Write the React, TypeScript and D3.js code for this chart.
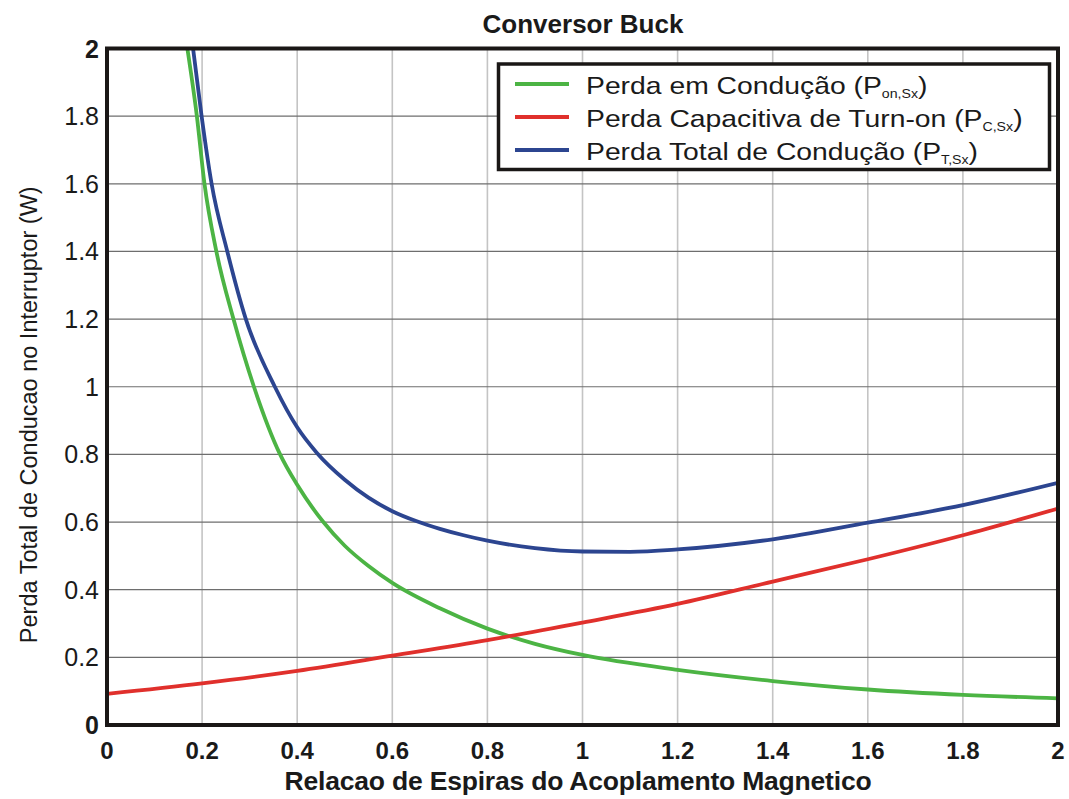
import React from "react";
import * as d3 from "d3";

const title = "Conversor Buck";
const xLabel = "Relacao de Espiras do Acoplamento Magnetico";
const yLabel = "Perda Total de Conducao no Interruptor (W)";

const xTicks = [0, 0.2, 0.4, 0.6, 0.8, 1, 1.2, 1.4, 1.6, 1.8, 2];
const yTicks = [0, 0.2, 0.4, 0.6, 0.8, 1, 1.2, 1.4, 1.6, 1.8, 2];

const greenX = [0.169, 0.189, 0.205, 0.23, 0.266, 0.309, 0.364, 0.4, 0.455, 0.5, 0.55, 0.6, 0.7, 0.8, 0.9, 1.0, 1.2, 1.4, 1.6, 1.8, 2.0];
const greenY = [2.0, 1.8, 1.6, 1.4, 1.2, 1.0, 0.8, 0.71, 0.6, 0.53, 0.47, 0.42, 0.345, 0.285, 0.24, 0.207, 0.163, 0.13, 0.105, 0.089, 0.079];

const redX = [0, 0.2, 0.4, 0.6, 0.8, 1.0, 1.2, 1.4, 1.6, 1.8, 2.0];
const redY = [0.092, 0.123, 0.16, 0.205, 0.251, 0.303, 0.358, 0.424, 0.49, 0.561, 0.64];

const blueX = [0.181, 0.199, 0.22, 0.253, 0.292, 0.353, 0.4, 0.441, 0.5, 0.55, 0.6, 0.65, 0.7, 0.75, 0.8, 0.9, 1.0, 1.1, 1.2, 1.4, 1.6, 1.8, 2.0];
const blueY = [2.0, 1.8, 1.6, 1.4, 1.2, 1.0, 0.88, 0.805, 0.725, 0.672, 0.632, 0.603, 0.58, 0.561, 0.545, 0.523, 0.513, 0.512, 0.519, 0.549, 0.598, 0.65, 0.716];

const legendMain = ["Perda em Condução (P", "Perda Capacitiva de Turn-on (P", "Perda Total de Condução (P"];
const legendSub = ["on,Sx", "C,Sx", "T,Sx"];
const colors = ["#4cb444", "#e0302c", "#2c4590"];

export default function App() {
  const W = 1069, H = 799;
  const L = 107, R = 1058, T = 48.5, B = 725;
  const x = d3.scaleLinear().domain([0, 2]).range([L, R]);
  const y = d3.scaleLinear().domain([0, 2]).range([B, T]);
  const line = d3.line<[number, number]>().x(d => x(d[0])).y(d => y(d[1])).curve(d3.curveMonotoneX);
  const series = [
    d3.zip(greenX, greenY) as [number, number][],
    d3.zip(redX, redY) as [number, number][],
    d3.zip(blueX, blueY) as [number, number][],
  ];
  const font = "Arial, 'Liberation Sans', Helvetica, sans-serif";
  return (
    <svg width={W} height={H} style={{ position: "absolute", left: 0, top: 0, background: "#fff" }} fontFamily={font}>
      <defs>
        <clipPath id="plot"><rect x={L} y={T} width={R - L} height={B - T} /></clipPath>
      </defs>
      {xTicks.slice(1, -1).map(t => (
        <line key={"vx" + t} x1={x(t)} x2={x(t)} y1={T} y2={B} stroke="#c4c4c4" strokeWidth={1.6} />
      ))}
      {yTicks.slice(1, -1).map(t => (
        <line key={"hy" + t} x1={L} x2={R} y1={y(t)} y2={y(t)} stroke="#6e6e6e" strokeWidth={1.2} />
      ))}
      <g clipPath="url(#plot)">
        {series.map((s, i) => (
          <path key={i} d={line(s) || ""} fill="none" stroke={colors[i]} strokeWidth={3.8} strokeLinejoin="round" />
        ))}
      </g>
      <rect x={L} y={T} width={R - L} height={B - T} fill="none" stroke="#1a1716" strokeWidth={4} />
      {xTicks.map(t => (
        <text key={"xt" + t} x={x(t)} y={759} textAnchor="middle" fontSize={24} fontWeight="bold" fill="#1a1a1a">{String(t)}</text>
      ))}
      {yTicks.map(t => (
        <text key={"yt" + t} x={99} y={y(t) + 9} textAnchor="end" fontSize={25} fill="#1a1a1a" fontWeight={t === 2 || t === 0 ? "bold" : "normal"}>{String(t)}</text>
      ))}
      <text x={583} y={33} textAnchor="middle" fontSize={26} fontWeight="bold" fill="#1a1a1a">{title}</text>
      <text x={578} y={790} textAnchor="middle" fontSize={26.5} fontWeight="bold" fill="#1a1a1a" letterSpacing={-0.2}>{xLabel}</text>
      <text transform={`translate(37, ${(T + B) / 2 + 28}) rotate(-90)`} textAnchor="middle" fontSize={23.5} fill="#1a1a1a">{yLabel}</text>
      <rect x={498.5} y={64} width={551} height={105.5} fill="#fff" stroke="#1a1716" strokeWidth={3.5} />
      {legendMain.map((m, i) => (
        <g key={"lg" + i}>
          <line x1={515} x2={569} y1={84 + i * 33} y2={84 + i * 33} stroke={colors[i]} strokeWidth={4} />
          <text transform={`translate(586, ${94 + i * 33}) scale(1.18, 1)`} fontSize={24} fill="#1a1a1a">
            {m}
            <tspan fontSize={12} dy={4}>{legendSub[i]}</tspan>
            <tspan dy={-4}>)</tspan>
          </text>
        </g>
      ))}
    </svg>
  );
}
